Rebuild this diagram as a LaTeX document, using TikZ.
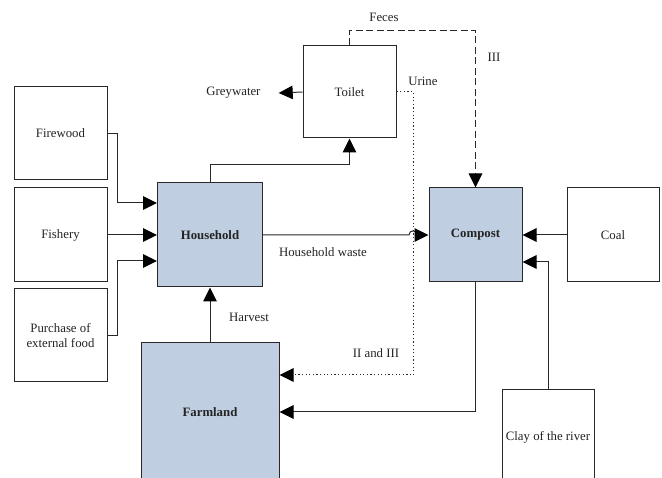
\documentclass[tikz,border=0pt]{standalone}
\usepackage{fontspec}
\setmainfont{Liberation Serif}
\usetikzlibrary{arrows.meta}
\definecolor{boxblue}{RGB}{192,206,225}
\definecolor{txt}{RGB}{35,35,35}
\definecolor{ln}{RGB}{40,40,40}
\begin{document}
\begin{tikzpicture}[x=1pt,y=-1pt,
  font=\fontsize{12.8}{15}\selectfont,
  every node/.style={text=txt},
  wbox/.style={draw=ln, line width=1pt, fill=white, inner sep=0pt, align=center},
  bbox/.style={draw=ln, line width=1pt, fill=boxblue, inner sep=0pt, font=\fontsize{12.8}{15}\selectfont\bfseries},
  lbl/.style={inner sep=0pt},
  arr/.style={draw=ln, line width=1pt, -{Triangle[length=14pt,width=13.5pt,fill=black,color=black]}},
  dsh/.style={arr, dash pattern=on 7pt off 3.5pt},
  dot/.style={arr, dash pattern=on 1.2pt off 2.4pt}]
\useasboundingbox (0,0) rectangle (662,478);
\clip (0,0) rectangle (662,478);
% boxes
\node[wbox, minimum width=93pt, minimum height=93pt] (fw) at (60.5,133.5) {Firewood};
\node[wbox, minimum width=93pt, minimum height=94pt] (fs) at (60.5,235) {Fishery};
\node[wbox, minimum width=93pt, minimum height=93pt] (pu) at (60.5,335.5) {Purchase of\\external food};
\node[bbox, minimum width=105pt, minimum height=104pt] (hh) at (210,235) {Household};
\node[wbox, minimum width=93pt, minimum height=92pt] (tl) at (349.5,92) {Toilet};
\node[bbox, minimum width=93pt, minimum height=94pt] (cp) at (475.5,235) {Compost};
\node[wbox, minimum width=92pt, minimum height=94pt] (cl) at (613,235) {Coal};
\node[bbox, minimum width=138pt, minimum height=138pt] (fl) at (210,412) {Farmland};
\node[wbox, minimum width=92pt, minimum height=94pt] (cr) at (548,437) {Clay of the river};
% labels
\node[lbl] (gw) at (233.5,93) {Greywater};
\node[lbl] (fe) at (384,17) {Feces};
\node[lbl] (t3) at (494,57) {III};
\node[lbl] (ur) at (423,81) {Urine};
\node[lbl] (t23) at (376,353) {II and III};
\node[lbl] (hw) at (323,252) {Household waste};
\node[lbl] (hv) at (249,317) {Harvest};
% connectors
\draw[arr] (fw.east) -- ++(10,0) |- ([yshift=32pt]hh.west);
\draw[arr] (fs.east) -- (hh.west);
\draw[arr] (pu.east) -- ++(10,0) |- ([yshift=-26pt]hh.west);
\draw[arr] (hh.north) -- ++(0,-18) -| (tl.south);
\draw[arr] (tl.west) -- ([xshift=18pt]gw.east);
\draw[dsh] (tl.north) -- ++(0,-15) -| (cp.north);
\draw[dot] (tl.east) -- ++(17,0) |- ([yshift=37pt]fl.east);
\draw[arr] (hh.east) -- (409,235) .. controls (409,229.5) and (417,229.5) .. (417,235) -- (cp.west);
\draw[arr] (fl.north) -- (hh.south);
\draw[arr] (cp.south) |- (fl.east);
\draw[arr] (cl.west) -- (cp.east);
\draw[arr] (cr.north) |- ([yshift=-27pt]cp.east);
\end{tikzpicture}
\end{document}
